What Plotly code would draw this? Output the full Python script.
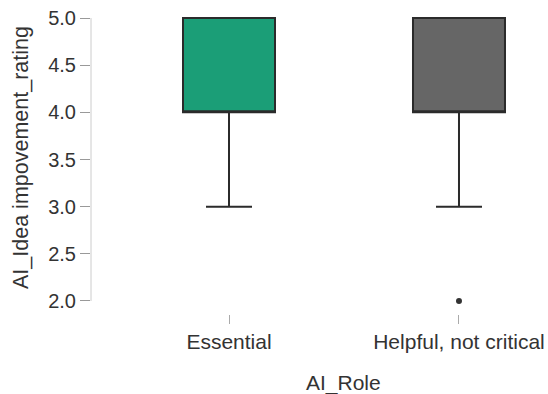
import plotly.graph_objects as go

categories = ["Essential", "Helpful, not critical"]
q1 = [4.0, 4.0]
median = [4.0, 4.0]
q3 = [5.0, 5.0]
lower_whisker = [3.0, 3.0]
upper_whisker = [5.0, 5.0]
box_colors = ["#1b9e77", "#666666"]
outlier_cat = ["Helpful, not critical"]
outlier_val = [2.0]
y_ticks = [2.0, 2.5, 3.0, 3.5, 4.0, 4.5, 5.0]

FONT = "Liberation Sans, Arial, sans-serif"
TXT = "#333333"

fig = go.Figure()
for i, cat in enumerate(categories):
    fig.add_trace(go.Box(
        x=[cat], q1=[q1[i]], median=[median[i]], q3=[q3[i]],
        lowerfence=[lower_whisker[i]], upperfence=[upper_whisker[i]],
        fillcolor=box_colors[i], line=dict(color="#2b2b2b", width=2),
        width=0.4, whiskerwidth=0.5, boxpoints=False, showlegend=False,
        hoverinfo="skip",
    ))

fig.add_trace(go.Scatter(
    x=outlier_cat, y=outlier_val, mode="markers",
    marker=dict(color="#333333", size=6), showlegend=False, hoverinfo="skip",
))

fig.update_layout(
    width=548, height=394,
    margin=dict(l=91, r=0, t=10, b=80, autoexpand=False),
    paper_bgcolor="white", plot_bgcolor="white",
    font=dict(family=FONT, size=20, color=TXT),
    xaxis=dict(
        type="category", categoryorder="array", categoryarray=categories,
        range=[-0.6, 1.387], showgrid=False, zeroline=False, showline=False,
        automargin=False,
        ticks="outside", ticklen=9, tickcolor="#aaaaaa", tickwidth=1,
        tickfont=dict(family=FONT, size=21, color=TXT),
    ),
    yaxis=dict(
        range=[1.862, 5.085], tickvals=y_ticks,
        ticktext=[f"{v:.1f}" for v in y_ticks],
        showgrid=False, zeroline=False, showline=False,
        automargin=False,
        ticks="outside", ticklen=10, tickcolor="#999999", tickwidth=1,
        tickfont=dict(family=FONT, size=20, color=TXT),
    ),
    shapes=[dict(type="line", xref="paper", yref="y", x0=0, x1=0,
                 y0=min(y_ticks), y1=max(y_ticks),
                 line=dict(color="#cccccc", width=1))],
    annotations=[
        dict(text="AI_Role", xref="x", yref="paper", x=0.5, y=-0.227,
             xanchor="center", yanchor="middle", showarrow=False,
             font=dict(family=FONT, size=21, color=TXT)),
        dict(text="AI_Idea impovement_rating", xref="paper", yref="paper",
             x=-0.152, y=0.515, xanchor="center", yanchor="middle",
             textangle=-90, showarrow=False,
             font=dict(family=FONT, size=21.5, color=TXT)),
    ],
)

fig.write_html("out.html", config={"displayModeBar": False},
               post_script="document.body.style.margin='0';document.body.style.overflow='hidden';")
